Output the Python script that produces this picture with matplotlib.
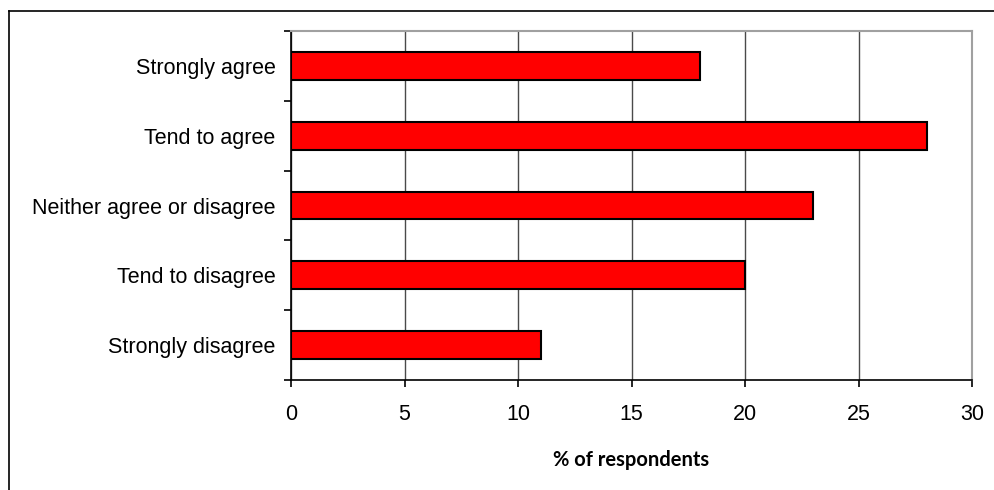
import matplotlib
matplotlib.use("Agg")
import matplotlib.pyplot as plt
from matplotlib.lines import Line2D
import numpy as np

categories = ["Strongly agree", "Tend to agree", "Neither agree or disagree",
              "Tend to disagree", "Strongly disagree"]
values = [18, 28, 23, 20, 11]
xticks = [0, 5, 10, 15, 20, 25, 30]
xlabel = "% of respondents"

W, H, DPI = 995, 490, 100
fig = plt.figure(figsize=(W / DPI, H / DPI), dpi=DPI)
fig.patch.set_facecolor("white")

L, R, T, B = 291, 972, 31, 380
ax = fig.add_axes([L / W, 1 - B / H, (R - L) / W, (B - T) / H])

n = len(categories)
ypos = np.arange(n)[::-1]
ax.barh(ypos, values, height=0.4, color="#ff0000", edgecolor="black",
        linewidth=1.5, zorder=3)

ax.set_xlim(0, 30)
ax.set_ylim(-0.5, n - 0.5)
ax.set_xticks(xticks)
ax.set_xticklabels([str(v) for v in xticks], fontsize=15.5, family="Liberation Sans")
ax.set_yticks(ypos)
ax.set_yticklabels(categories, fontsize=15.5, family="Liberation Sans")
ax.tick_params(axis="y", which="major", length=0, pad=11)
ax.set_yticks(np.arange(n + 1) - 0.5, minor=True)
ax.tick_params(axis="y", which="minor", length=5, width=1.2, direction="out")
ax.tick_params(axis="x", which="major", length=5, width=1.2, direction="out", pad=12)

ax.grid(axis="x", color="#4a4a4a", linewidth=1, zorder=0)
ax.set_axisbelow(True)
for s in ["top", "right"]:
    ax.spines[s].set_color("#a0a0a0")
    ax.spines[s].set_linewidth(1.5)
for s in ["left", "bottom"]:
    ax.spines[s].set_color("black")
    ax.spines[s].set_linewidth(1.2)

ax.set_xlabel(xlabel, fontsize=14.5, fontweight="bold", family="Lato", labelpad=18)

# outer chart border (left and top edges visible)
fig.add_artist(Line2D([8.5 / W, 8.5 / W], [0, 1 - 11.5 / H], transform=fig.transFigure,
                      color="black", linewidth=1.2))
fig.add_artist(Line2D([8.5 / W, 1], [1 - 11.5 / H, 1 - 11.5 / H], transform=fig.transFigure,
                      color="black", linewidth=1.2))

fig.savefig("out.png", dpi=DPI)
